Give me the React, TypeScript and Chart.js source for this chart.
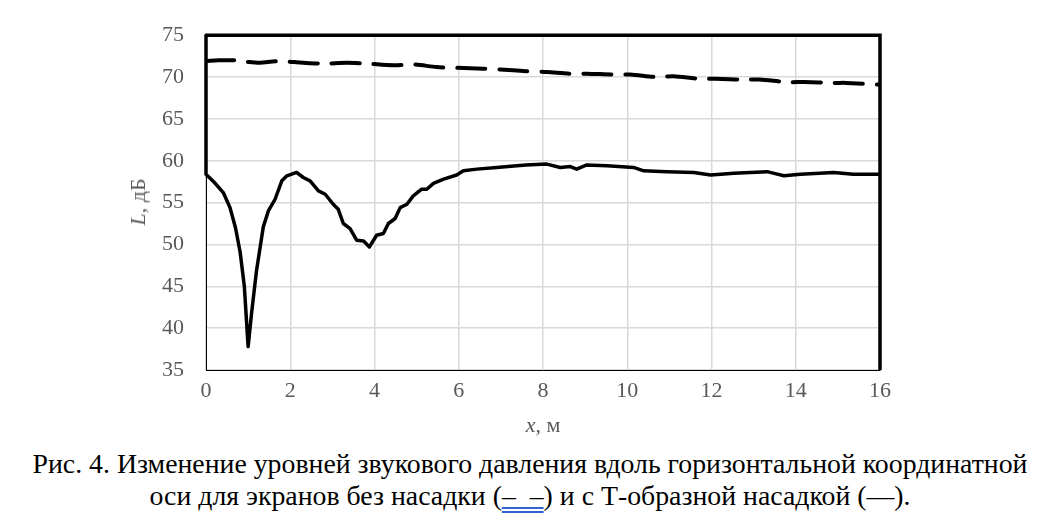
import { useEffect, useRef } from "react"
import { Chart, registerables } from "chart.js"

Chart.register(...registerables)

// x positions (m) and levels (dB)
const solidX = [0, 0, 0.2, 0.41, 0.57, 0.7, 0.81, 0.91, 1.0, 1.08, 1.2, 1.36, 1.48, 1.64, 1.8, 1.92, 2.15, 2.31, 2.47, 2.67, 2.83, 3.02, 3.14, 3.26, 3.42, 3.58, 3.74, 3.88, 4.05, 4.21, 4.33, 4.49, 4.61, 4.77, 4.92, 5.12, 5.24, 5.4, 5.64, 5.95, 6.11, 6.43, 6.9, 7.38, 7.6, 8.09, 8.41, 8.65, 8.8, 9.04, 9.52, 10.15, 10.39, 10.94, 11.58, 11.98, 12.53, 13.32, 13.56, 13.72, 14.11, 14.9, 15.37, 16]
const solidY = [75, 58.4, 57.4, 56.2, 54.4, 52.0, 49.1, 45.0, 37.8, 41.7, 46.9, 52.1, 54.0, 55.4, 57.6, 58.2, 58.6, 58.0, 57.6, 56.4, 56.0, 54.8, 54.2, 52.5, 51.9, 50.5, 50.4, 49.7, 51.1, 51.3, 52.5, 53.1, 54.4, 54.8, 55.8, 56.6, 56.6, 57.3, 57.8, 58.3, 58.8, 59.0, 59.2, 59.4, 59.5, 59.6, 59.2, 59.3, 59.0, 59.5, 59.4, 59.2, 58.8, 58.7, 58.6, 58.3, 58.5, 58.7, 58.4, 58.2, 58.4, 58.6, 58.4, 58.4]

const dashX = [0, 0.3, 0.73, 1.0, 1.28, 1.68, 2.31, 2.79, 3.34, 3.82, 4.45, 4.93, 5.48, 5.95, 6.59, 6.98, 7.61, 8.09, 8.65, 9.04, 9.67, 10.07, 10.7, 11.1, 11.7, 12.1, 12.76, 13.14, 13.8, 14.2, 14.9, 15.2, 16]
const dashY = [71.9, 72.0, 72.0, 71.8, 71.7, 71.9, 71.7, 71.6, 71.7, 71.6, 71.4, 71.5, 71.2, 71.1, 71.0, 70.9, 70.7, 70.6, 70.4, 70.4, 70.3, 70.3, 70.0, 70.1, 69.8, 69.8, 69.7, 69.7, 69.4, 69.4, 69.3, 69.3, 69.1]

const FONT = '"Liberation Serif", "Times New Roman", serif'
const GRAY = "#595959"

// thick frame on top and right of the plot
const framePlugin = {
  id: "frame",
  afterDraw(chart: Chart) {
    const { ctx, chartArea } = chart
    ctx.save()
    ctx.strokeStyle = "#000"
    ctx.lineWidth = 3.5
    ctx.beginPath()
    ctx.moveTo(chartArea.left, chartArea.top)
    ctx.lineTo(chartArea.right, chartArea.top)
    ctx.lineTo(chartArea.right, chartArea.bottom)
    ctx.stroke()
    ctx.restore()
  },
}

export default function App() {
  const chartRef = useRef<HTMLCanvasElement>(null)
  const chartInstance = useRef<Chart | null>(null)

  useEffect(() => {
    if (!chartRef.current) return
    if (chartInstance.current) chartInstance.current.destroy()
    const ctx = chartRef.current.getContext("2d")
    if (!ctx) return

    chartInstance.current = new Chart(ctx, {
      type: "line",
      data: {
        datasets: [
          {
            label: "без насадки",
            data: dashX.map((x, i) => ({ x, y: dashY[i] })),
            borderColor: "#000",
            borderWidth: 4,
            borderDash: [28, 14],
            borderCapStyle: "round",
            pointRadius: 0,
            tension: 0.3,
          },
          {
            label: "с Т-образной насадкой",
            data: solidX.map((x, i) => ({ x, y: solidY[i] })),
            borderColor: "#000",
            borderWidth: 3.5,
            borderJoinStyle: "round",
            pointRadius: 0,
            tension: 0,
            clip: 4,
          },
        ],
      },
      options: {
        responsive: true,
        maintainAspectRatio: false,
        animation: false,
        layout: { padding: { left: 0, top: 34, right: 174, bottom: 0 } },
        plugins: { legend: { display: false }, tooltip: { enabled: false } },
        scales: {
          x: {
            type: "linear",
            min: 0,
            max: 16,
            ticks: { stepSize: 2, color: GRAY, font: { family: FONT, size: 22 }, padding: 8 },
            grid: { color: "#d9d9d9", lineWidth: 1.5, drawTicks: false },
            border: { color: "#000", width: 1 },
            afterFit: (scale) => {
              scale.height = 70
            },
          },
          y: {
            min: 35,
            max: 75,
            ticks: { stepSize: 5, color: GRAY, font: { family: FONT, size: 22 }, padding: 22 },
            grid: { color: "#d9d9d9", lineWidth: 1.5, drawTicks: false },
            border: { color: "#000", width: 1 },
            afterFit: (scale) => {
              scale.width = 206
            },
          },
        },
      },
      plugins: [framePlugin],
    })

    return () => {
      if (chartInstance.current) {
        chartInstance.current.destroy()
        chartInstance.current = null
      }
    }
  }, [])

  return (
    <div style={{ position: "relative", width: 1054, height: 516, background: "#fff", fontFamily: FONT }}>
      <style>{`body{margin:0}`}</style>
      <div style={{ position: "absolute", left: 0, top: 0, width: 1054, height: 440 }}>
        <canvas ref={chartRef} />
      </div>
      <div
        style={{
          position: "absolute",
          left: 138,
          top: 202,
          transform: "translate(-50%, -50%) rotate(-90deg)",
          whiteSpace: "nowrap",
          color: GRAY,
          fontSize: 22,
        }}
      >
        <i>L</i>, дБ
      </div>
      <div
        style={{
          position: "absolute",
          left: 543,
          top: 425,
          transform: "translate(-50%, -50%)",
          whiteSpace: "nowrap",
          color: GRAY,
          fontSize: 22,
        }}
      >
        <i>x</i>, м
      </div>
      <div
        style={{
          position: "absolute",
          left: 0,
          top: 448,
          width: 1060,
          textAlign: "center",
          color: "#000",
          fontSize: 27.8,
          lineHeight: "32px",
          whiteSpace: "nowrap",
        }}
      >
        Рис. 4. Изменение уровней звукового давления вдоль горизонтальной координатной
        <br />
        оси для экранов без насадки (
        <span style={{ textDecoration: "underline double #2f63d6" }}>{"–\u2002–"}</span>) и с Т-образной насадкой (—).
      </div>
    </div>
  )
}
